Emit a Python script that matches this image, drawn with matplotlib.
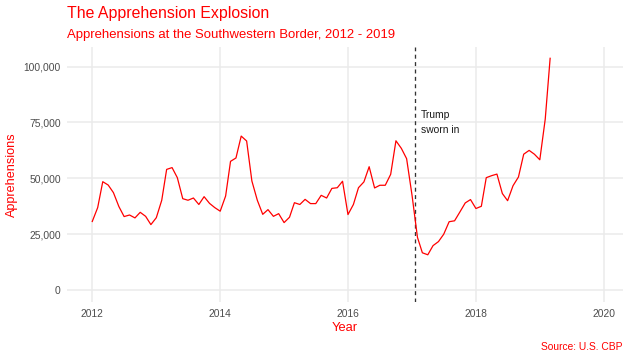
import pandas as pd
import numpy as np

import matplotlib
matplotlib.use("Agg")
import matplotlib.pyplot as plt
import matplotlib.dates as mdates

plt.rcParams['font.family'] = ['Liberation Sans', 'DejaVu Sans']

# Monthly apprehensions at the southwestern border, Jan 2012 - Mar 2019
months = pd.date_range("2012-01-01", "2019-03-01", freq="MS")
apprehensions = [
    30700, 36900, 48500, 47000, 43600, 37400, 32900, 33600, 32300, 34800, 33000, 29300,  # 2012
    32400, 40200, 54000, 54800, 50300, 40900, 40200, 41200, 38300, 41800, 38800, 36900,  # 2013
    35300, 42100, 57600, 59100, 68900, 66700, 48800, 40200, 33900, 36000, 33000, 34200,  # 2014
    30200, 32600, 39100, 38300, 40600, 38700, 38700, 42400, 41200, 45500, 45800, 48700,  # 2015
    33800, 38300, 45800, 48400, 55200, 45700, 46900, 46900, 51800, 66800, 63400, 58800,  # 2016
    42400, 23600, 16700, 15800, 19900, 21700, 25000, 30600, 31000, 34900, 39000, 40500,  # 2017
    36500, 37500, 50300, 51200, 51900, 43200, 40000, 46700, 50600, 60800, 62500, 60800,  # 2018
    58300, 76500, 103700,                                                                 # 2019
]
inauguration = pd.Timestamp("2017-01-20")
note_text = "Trump\nsworn in"
year_ticks = [2012, 2014, 2016, 2018, 2020]
y_ticks = [0, 25000, 50000, 75000, 100000]

df = pd.DataFrame({"month": months, "apprehensions": apprehensions})

RED = "#FF0000"
GREY_TXT = "#4D4D4D"
GRID = "#EBEBEB"

W, H = 630, 360
fig = plt.figure(figsize=(W / 100, H / 100), dpi=100)
# panel in pixel coords: left 66.7, right 623.3, top 46.7, bottom 301.7
ax = fig.add_axes([66.7 / W, 1 - 301.7 / H, (623.3 - 66.7) / W, (301.7 - 46.7) / H])

ax.plot(df["month"], df["apprehensions"], color=RED, lw=0.9, zorder=3)
ax.axvline(inauguration, color="#333333", lw=0.95, dashes=(3.0, 2.6), zorder=2)
ax.text(pd.Timestamp("2017-02-19"), 75000, note_text, ha="left", va="center",
        fontsize=7.4, color="#1A1A1A", linespacing=1.55)

# limits like ggplot's 5% expansion
ymax = max(apprehensions)
ax.set_ylim(-0.05 * ymax, 1.05 * ymax)
ax.set_xlim(pd.Timestamp("2011-08-08"), pd.Timestamp("2020-04-22"))

ax.set_xticks([pd.Timestamp(f"{y}-01-01") for y in year_ticks])
ax.xaxis.set_major_formatter(mdates.DateFormatter("%Y"))
ax.set_yticks(y_ticks)
ax.set_yticklabels([f"{v:,}" for v in y_ticks])
ax.tick_params(length=0, labelsize=7.4, labelcolor=GREY_TXT)
ax.tick_params(axis="x", pad=5.3)
ax.tick_params(axis="y", pad=4.3)

ax.grid(True, color=GRID, lw=1.1)
ax.set_axisbelow(True)
for s in ax.spines.values():
    s.set_visible(False)

fig.text(67.3 / W, 1 - 18.3 / H, "The Apprehension Explosion", color=RED,
         fontsize=11.4, ha="left", va="baseline")
fig.text(67.3 / W, 1 - 37.7 / H, "Apprehensions at the Southwestern Border, 2012 - 2019",
         color=RED, fontsize=9.45, ha="left", va="baseline")
fig.text(345 / W, 1 - 328.3 / H, "Year", color=RED, fontsize=9.3, ha="center", va="center")
fig.text(11.7 / W, 1 - 175 / H, "Apprehensions", color=RED, fontsize=9.1,
         ha="center", va="center", rotation=90)
fig.text(622.7 / W, 1 - 346.7 / H, "Source: U.S. CBP", color=RED, fontsize=7.4,
         ha="right", va="center")

fig.savefig("out.png", dpi=100)
